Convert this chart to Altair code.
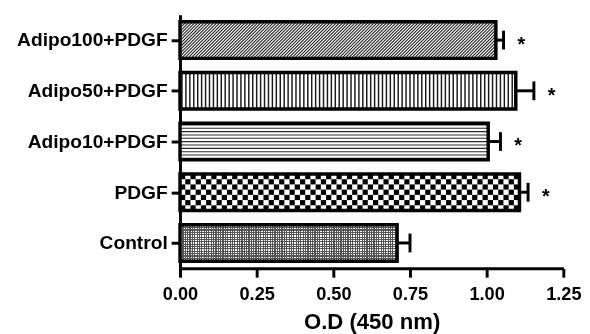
import json
import altair as alt
import pandas as pd

# ---------------- data ----------------
categories = ["Control", "PDGF", "Adipo10+PDGF", "Adipo50+PDGF", "Adipo100+PDGF"]
means = [0.708, 1.107, 1.005, 1.095, 1.030]
sems = [0.042, 0.028, 0.040, 0.059, 0.025]
stars = ["", "*", "*", "*", "*"]
x_ticks = [0.0, 0.25, 0.5, 0.75, 1.0, 1.25]
x_title = "O.D (450 nm)"

# ---------------- layout / style ----------------
W, H = 390, 258
XMAX = 1.25
HALF = 0.36
CAP = 0.185
FONT = "Liberation Sans"
px_x = W / XMAX
px_y = H / 5.0
bar_h_px = 2 * HALF * px_y

df = pd.DataFrame({"cat": categories, "idx": list(range(len(categories))),
                   "mean": means, "sem": sems, "star": stars})

# ---------- fill patterns derived from the bars (hatch lines / checker cells) ----------
hatch_rows = []   # line segments: x, x2, y, y2 in data units, stroke width, colour
cell_rows = []    # checker cells
for i, (c, m) in enumerate(zip(categories, means)):
    Wb = m * px_x
    Hb = bar_h_px
    top = i + HALF

    def to_data(px, py):
        return px / px_x, top - py / px_y

    if c == "Adipo100+PDGF":
        per = 3.2
        k = per
        while k < Wb + Hb:
            sx, sy = (k, 0.0) if k <= Wb else (Wb, k - Wb)
            ex, ey = (0.0, k) if k <= Hb else (k - Hb, Hb)
            a = to_data(sx, sy)
            b = to_data(ex, ey)
            hatch_rows.append({"hx": a[0], "hx2": b[0], "hy": a[1], "hy2": b[1],
                               "sw": 1.1, "col": "#1e1e1e"})
            k += per
    elif c == "Adipo50+PDGF":
        per = 4.0
        k = per / 2
        while k < Wb:
            a = to_data(k, 0)
            b = to_data(k, Hb)
            hatch_rows.append({"hx": a[0], "hx2": b[0], "hy": a[1], "hy2": b[1],
                               "sw": 1.5, "col": "#1a1a1a"})
            k += per
    elif c == "Adipo10+PDGF":
        per = 3.4
        k = per / 2
        while k < Hb:
            a = to_data(0, k)
            b = to_data(Wb, k)
            hatch_rows.append({"hx": a[0], "hx2": b[0], "hy": a[1], "hy2": b[1],
                               "sw": 1.1, "col": "#2a2a2a"})
            k += per
    elif c == "PDGF":
        cell = Hb / 7.0
        ncol = int(Wb // cell) + 1
        for r in range(7):
            for q in range(ncol):
                if (r + q) % 2 == 0:
                    x0, y0 = to_data(q * cell, r * cell)
                    x1, y1 = to_data(min((q + 1) * cell, Wb), (r + 1) * cell)
                    if x1 > x0:
                        cell_rows.append({"cx": x0, "cx2": x1, "cy": y0, "cy2": y1})

hatch = pd.DataFrame(hatch_rows)
cells = pd.DataFrame(cell_rows)


def stripe_stops(length_px, period_px, first_frac, c1, c2):
    stops = []
    i = 0
    while i * period_px < length_px:
        a = min(i * period_px / length_px, 1.0)
        b = min((i + first_frac) * period_px / length_px, 1.0)
        cc = min((i + 1) * period_px / length_px, 1.0)
        stops += [(a, c1), (b, c1), (b, c2), (cc, c2)]
        i += 1
    return [{"offset": round(o, 5), "color": col} for o, col in stops]


def grad(x2, y2, stops):
    return {"gradient": "linear", "x1": 0, "y1": 0, "x2": x2, "y2": y2, "stops": stops}


xscale = alt.Scale(domain=[0, XMAX], nice=False, zero=True)
yscale = alt.Scale(domain=[-0.5, len(categories) - 0.5], nice=False, zero=False)

xaxis = alt.Axis(values=x_ticks, format=".2f", title=x_title, grid=False,
                 tickSize=9, tickWidth=3, domainWidth=3, labelFontSize=18.5,
                 labelFont=FONT, labelFontWeight="bold", labelPadding=8,
                 labelFlush=False, titleFontSize=22.5, titleFont=FONT,
                 titleFontWeight="bold", titlePadding=8)
label_expr = json.dumps(categories) + "[datum.value]"
yaxis = alt.Axis(values=list(range(len(categories))), labelExpr=label_expr,
                 title=None, grid=False, tickSize=9, tickWidth=3, domainWidth=3,
                 labelFontSize=19.5, labelFont=FONT, labelFontWeight="bold",
                 labelPadding=4)


def X(f):
    return alt.X(f, type="quantitative", scale=xscale, axis=xaxis)


def Y(f):
    return alt.Y(f, type="quantitative", scale=yscale, axis=yaxis)


base = alt.Chart(df).transform_calculate(
    zero="0",
    ylo=f"datum.idx - {HALF}",
    yhi=f"datum.idx + {HALF}",
    xe="datum.mean + datum.sem",
    clo=f"datum.idx - {CAP}",
    chi=f"datum.idx + {CAP}",
)

# white background of every bar
bg = base.mark_rect(fill="white", strokeWidth=0).encode(
    x=X("zero"), x2="mean:Q", y=Y("ylo"), y2="yhi:Q")

# Control: fine dotted texture
ci = categories.index("Control")
Wc = means[ci] * px_x
ctrl1 = base.transform_filter(f"datum.idx == {ci}").mark_rect(
    fill=grad(1, 0, stripe_stops(Wc, 2.4, 0.5, "#555555", "#ffffff")), strokeWidth=0).encode(
    x=X("zero"), x2="mean:Q", y=Y("ylo"), y2="yhi:Q")
ctrl2 = base.transform_filter(f"datum.idx == {ci}").mark_rect(
    fill=grad(0, 1, stripe_stops(bar_h_px, 2.4, 0.5, "#555555", "#ffffff")), strokeWidth=0,
    blend="darken").encode(
    x=X("zero"), x2="mean:Q", y=Y("ylo"), y2="yhi:Q")

hatch_layer = alt.Chart(hatch).mark_rule(strokeCap="butt").encode(
    x=X("hx"), x2="hx2:Q", y=Y("hy"), y2="hy2:Q",
    strokeWidth=alt.StrokeWidth("sw:Q", scale=None),
    color=alt.Color("col:N", scale=None))

cell_layer = alt.Chart(cells).mark_rect(fill="black", strokeWidth=0).encode(
    x=X("cx"), x2="cx2:Q", y=Y("cy"), y2="cy2:Q")

outline = base.mark_rect(fill="transparent", stroke="black", strokeWidth=3.5).encode(
    x=X("zero"), x2="mean:Q", y=Y("ylo"), y2="yhi:Q")
err = base.mark_rule(color="black", strokeWidth=3).encode(
    x=X("mean"), x2="xe:Q", y=Y("idx"))
cap = base.mark_rule(color="black", strokeWidth=3).encode(
    x=X("xe"), y=Y("clo"), y2="chi:Q")
star_txt = base.transform_filter("datum.star != ''").mark_text(
    font=FONT, fontSize=20, fontWeight="bold", color="black", align="center",
    baseline="alphabetic", dx=18, dy=11).encode(x=X("xe"), y=Y("idx"), text="star:N")

chart = alt.layer(bg, ctrl1, ctrl2, hatch_layer, cell_layer, outline, err, cap, star_txt).properties(
    width=W, height=H,
    padding={"left": 8, "top": 4, "right": 0, "bottom": 0},
).configure_view(strokeWidth=0).configure_axis(
    domainColor="black", tickColor="black", labelColor="black", titleColor="black")

chart.save("out.html", embed_options={"renderer": "svg", "actions": False})
